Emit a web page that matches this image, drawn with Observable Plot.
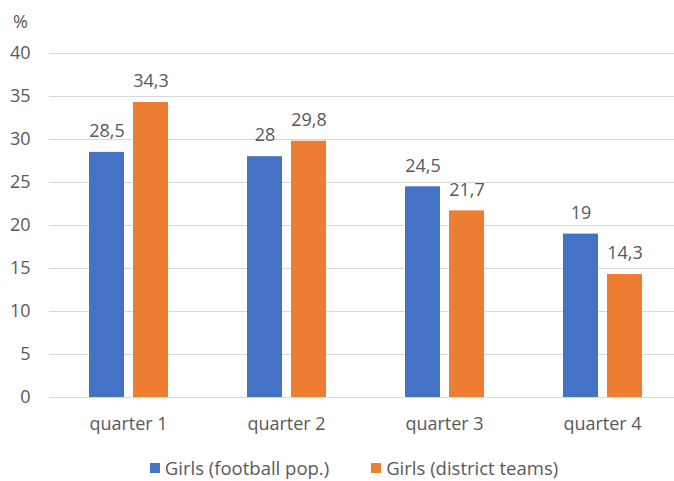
<!DOCTYPE html>
<html>
<head>
<meta charset="utf-8">
<script src="https://cdn.jsdelivr.net/npm/d3@7"></script>
<script src="https://cdn.jsdelivr.net/npm/@observablehq/plot@0.6"></script>
<style>
  html, body { margin: 0; padding: 0; background: #fff; }
  #chart { width: 674px; }
  .legend {
    box-sizing: border-box; height: 36px; padding-top: 9px;
    display: flex; justify-content: center; align-items: center;
    font-family: "Open Sans", sans-serif; font-size: 18.5px; color: #595959;
    margin-left: 34px; gap: 42px;
  }
  .legend span.item { display: flex; align-items: center; }
  .legend span.sw { width: 10px; height: 10px; display: inline-block; margin-right: 5px; }
</style>
</head>
<body>
<div id="chart"></div>
<script>
const quarters = ["quarter 1", "quarter 2", "quarter 3", "quarter 4"];
const series = ["Girls (football pop.)", "Girls (district teams)"];
const footballPop = [28.5, 28, 24.5, 19];
const districtTeams = [34.3, 29.8, 21.7, 14.3];
const colors = ["#4472C4", "#ED7D31"];
const yTicks = [0, 5, 10, 15, 20, 25, 30, 35, 40];

const rows = quarters.flatMap((q, i) => [
  {quarter: q, series: series[0], value: footballPop[i]},
  {quarter: q, series: series[1], value: districtTeams[i]}
]);

// decimal comma
const fmt = v => String(v).replace(".", ",");

const chart = Plot.plot({
  width: 674,
  height: 445,
  marginLeft: 48,
  marginRight: 0,
  marginTop: 53,
  marginBottom: 48,
  style: {fontFamily: "Open Sans", fontSize: "18px", color: "#595959", background: "#fff"},
  fx: {domain: quarters, range: [48, 681], padding: 0, axis: "bottom", label: null, tickSize: 0, tickPadding: 20},
  x: {domain: series, axis: null, paddingInner: 0.211, paddingOuter: 0.864},
  y: {domain: [0, 40], ticks: yTicks, label: null, tickSize: 0, tickPadding: 19},
  color: {domain: series, range: colors},
  marks: [
    Plot.ruleY(yTicks, {stroke: "#d9d9d9", strokeWidth: 1}),
    Plot.barY(rows, {fx: "quarter", x: "series", y: "value", fill: "series"}),
    Plot.text(rows, {fx: "quarter", x: "series", y: "value", text: d => fmt(d.value),
      dy: -21, lineAnchor: "middle", fill: "#595959"}),
    Plot.text(["%"], {fx: () => quarters[0], frameAnchor: "top-left", dx: -29, dy: -31,
      textAnchor: "middle", lineAnchor: "middle", fill: "#595959"})
  ]
});
document.getElementById("chart").appendChild(chart);

const legend = document.createElement("div");
legend.className = "legend";
series.forEach((s, i) => {
  const item = document.createElement("span");
  item.className = "item";
  const sw = document.createElement("span");
  sw.className = "sw";
  sw.style.background = colors[i];
  item.appendChild(sw);
  item.appendChild(document.createTextNode(s));
  legend.appendChild(item);
});
document.getElementById("chart").appendChild(legend);
</script>
</body>
</html>
